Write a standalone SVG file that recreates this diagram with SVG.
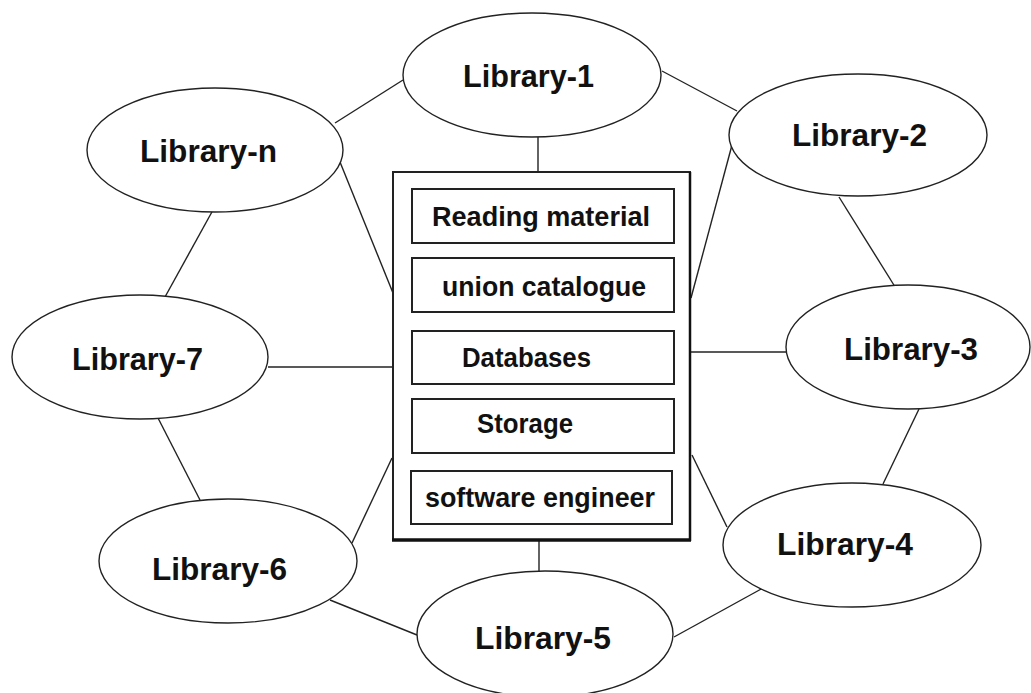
<svg xmlns="http://www.w3.org/2000/svg" width="1031" height="693" viewBox="0 0 1031 693">
<style>
.e{fill:#fff;stroke:#222;stroke-width:1.4}
.c line{stroke:#222;stroke-width:1.4}
.lt{font-family:"Liberation Sans",Arial,sans-serif;font-weight:bold;font-size:32px;fill:#111}
.bt{font-family:"Liberation Sans",Arial,sans-serif;font-weight:bold;font-size:27px;fill:#111}
.ib{fill:#fff;stroke:#222;stroke-width:2}
</style>
<rect width="1031" height="693" fill="#fff"/>
<g class="c" id="connectors">
<line x1="403" y1="80" x2="335" y2="123"/>
<line x1="662" y1="71" x2="737" y2="111"/>
<line x1="538" y1="137" x2="538" y2="172"/>
<line x1="340" y1="162" x2="393" y2="293"/>
<line x1="213" y1="210" x2="165" y2="297"/>
<line x1="732" y1="145" x2="691" y2="298"/>
<line x1="839" y1="197" x2="897" y2="290"/>
<line x1="691" y1="352" x2="786" y2="352"/>
<line x1="919" y1="409" x2="883" y2="484"/>
<line x1="692" y1="455" x2="727" y2="527"/>
<line x1="763" y1="588" x2="674" y2="637"/>
<line x1="539" y1="540" x2="539" y2="571"/>
<line x1="417" y1="635" x2="330" y2="600"/>
<line x1="352" y1="543" x2="392" y2="458"/>
<line x1="200" y1="500" x2="158" y2="418"/>
<line x1="268" y1="367" x2="393" y2="367"/>
</g>
<g id="server">
<rect x="393" y="172" width="297" height="368" fill="#fff" stroke="#222" stroke-width="2"/>
<line x1="392" y1="540" x2="691" y2="540" stroke="#111" stroke-width="3.5"/>
<line x1="690" y1="172" x2="690" y2="541" stroke="#111" stroke-width="2.5"/>
</g>
<g id="box-reading">
<rect class="ib" x="412" y="189" width="262" height="54"/>
<text class="bt" x="432" y="226" textLength="218" lengthAdjust="spacingAndGlyphs">Reading material</text>
</g>
<g id="box-union">
<rect class="ib" x="412" y="258" width="262" height="54"/>
<text class="bt" x="442" y="296" textLength="204" lengthAdjust="spacingAndGlyphs">union catalogue</text>
</g>
<g id="box-databases">
<rect class="ib" x="412" y="331" width="262" height="53"/>
<text class="bt" x="462" y="367" textLength="129" lengthAdjust="spacingAndGlyphs">Databases</text>
</g>
<g id="box-storage">
<rect class="ib" x="412" y="399" width="262" height="54"/>
<text class="bt" x="477" y="433" textLength="96" lengthAdjust="spacingAndGlyphs">Storage</text>
</g>
<g id="box-software">
<rect class="ib" x="411" y="471" width="261" height="53"/>
<text class="bt" x="425" y="507" textLength="230" lengthAdjust="spacingAndGlyphs">software engineer</text>
</g>
<g id="library-1">
<ellipse class="e" cx="532" cy="75" rx="129" ry="62"/>
<text class="lt" x="463" y="87" textLength="131" lengthAdjust="spacingAndGlyphs">Library-1</text>
</g>
<g id="library-n">
<ellipse class="e" cx="215" cy="150" rx="128" ry="62"/>
<text class="lt" x="140" y="162" textLength="137" lengthAdjust="spacingAndGlyphs">Library-n</text>
</g>
<g id="library-2">
<ellipse class="e" cx="858" cy="135" rx="129" ry="61"/>
<text class="lt" x="792" y="146" textLength="135" lengthAdjust="spacingAndGlyphs">Library-2</text>
</g>
<g id="library-3">
<ellipse class="e" cx="908" cy="347" rx="122" ry="62"/>
<text class="lt" x="844" y="360" textLength="134" lengthAdjust="spacingAndGlyphs">Library-3</text>
</g>
<g id="library-7">
<ellipse class="e" cx="140" cy="357" rx="128" ry="62"/>
<text class="lt" x="72" y="370" textLength="131" lengthAdjust="spacingAndGlyphs">Library-7</text>
</g>
<g id="library-6">
<ellipse class="e" cx="228" cy="561" rx="129" ry="62"/>
<text class="lt" x="152" y="580" textLength="135" lengthAdjust="spacingAndGlyphs">Library-6</text>
</g>
<g id="library-5">
<ellipse class="e" cx="545" cy="634" rx="128" ry="63"/>
<text class="lt" x="475" y="649" textLength="136" lengthAdjust="spacingAndGlyphs">Library-5</text>
</g>
<g id="library-4">
<ellipse class="e" cx="852" cy="545" rx="129" ry="62"/>
<text class="lt" x="777" y="555" textLength="136" lengthAdjust="spacingAndGlyphs">Library-4</text>
</g>
</svg>
